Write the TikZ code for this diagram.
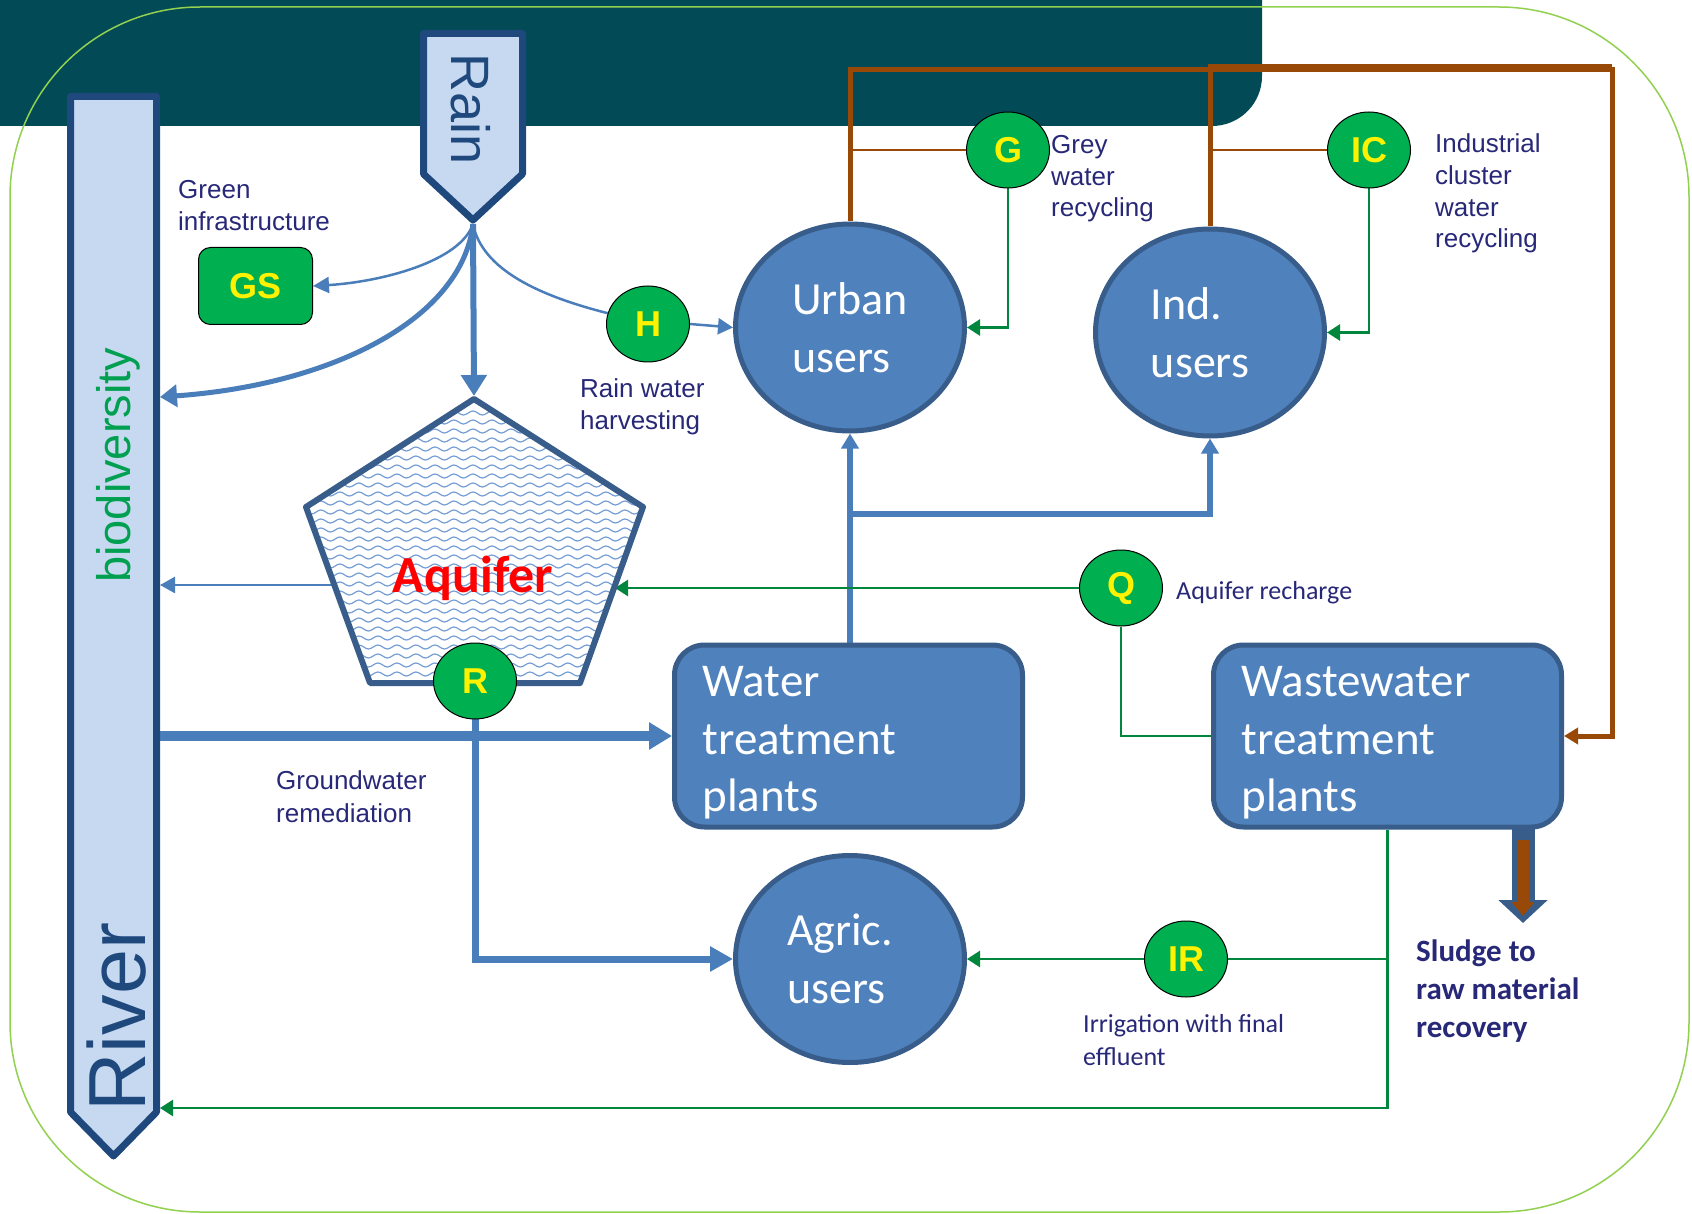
\documentclass[tikz,border=0pt]{standalone}
\usepackage{fontspec}
\setmainfont{Liberation Sans}
\newfontfamily\fArial{Liberation Sans}
\newfontfamily\fCal{Carlito}
\usetikzlibrary{arrows.meta,shapes.geometric,decorations.pathmorphing}
\definecolor{bandc}{RGB}{2,74,85}
\definecolor{bordc}{RGB}{146,208,80}
\definecolor{rvfill}{RGB}{198,217,241}
\definecolor{rvdraw}{RGB}{31,73,125}
\definecolor{ufill}{RGB}{79,129,189}
\definecolor{udraw}{RGB}{56,93,138}
\definecolor{lnblue}{RGB}{74,126,187}
\definecolor{gfill}{RGB}{0,176,80}
\definecolor{lngreen}{RGB}{0,134,61}
\definecolor{brn}{RGB}{152,72,7}
\definecolor{navy}{RGB}{40,40,120}
\definecolor{biog}{RGB}{0,160,80}
\definecolor{wave}{RGB}{118,158,214}
\pgfdeclarelayer{bg}
\pgfsetlayers{bg,main}
\begin{document}
\begin{tikzpicture}[x=1pt,y=-1pt,
  lbl/.style={font=\fArial\fontsize{26}{32}\selectfont, text=navy, align=left, inner sep=0pt, anchor=base west},
  lblc/.style={font=\fCal\fontsize{26}{33}\selectfont, text=navy, align=left, inner sep=0pt, anchor=base west},
  gc/.style={ellipse, draw=black, line width=1pt, fill=gfill, minimum width=83pt, minimum height=76pt, inner sep=0pt, font=\fArial\bfseries\fontsize{36}{36}\selectfont, text=yellow},
  user/.style={ellipse, draw=udraw, line width=5pt, fill=ufill, text=white, align=left, inner sep=0pt, minimum width=229pt, minimum height=207pt, font=\fCal\fontsize{46}{58}\selectfont},
  plant/.style={rectangle, rounded corners=30pt, draw=udraw, line width=5pt, fill=ufill, text=white, align=left, inner xsep=28pt, inner ysep=0pt, text width=292pt, minimum height=182pt, font=\fCal\fontsize{47}{57.5}\selectfont},
  bline/.style={draw=lnblue},
  gline/.style={draw=lngreen, line width=2.5pt},
  brline/.style={draw=brn, line width=5pt},
  tipS/.style={-{Triangle[length=15pt,width=16pt]}},
  tipG/.style={-{Triangle[length=13pt,width=16pt]}},
  shp/.style={draw=rvdraw, fill=rvfill, line width=7pt, line join=round}
]
\useasboundingbox (0,0) rectangle (1692,1214);

% ---- shapes: river, rain, aquifer
\draw[shp] (70.5,96.5) -- (156.5,96.5) -- (156.5,1112) -- (113.5,1156) -- (70.5,1112) -- cycle;
\draw[shp] (423.5,33.5) -- (522.5,33.5) -- (522.5,174) -- (473,220) -- (423.5,174) -- cycle;
\node[rotate=90, anchor=base west, inner sep=0pt, font=\fArial\fontsize{47}{47}\selectfont, text=biog] (bio) at (130,583) {biodiversity};
\node[rotate=90, anchor=base west, inner sep=0pt, font=\fArial\fontsize{81}{81}\selectfont, text=rvdraw] (river) at (145,1112) {River};
\node[rotate=-90, anchor=base west, inner sep=0pt, font=\fArial\fontsize{54}{54}\selectfont, text=rvdraw] (rain) at (451,53) {Rain};

\fill[white] (474,399) -- (643,507) -- (580,683) -- (370,683) -- (306,507) -- cycle;
\begin{scope}
  \clip (474,399) -- (643,507) -- (580,683) -- (370,683) -- (306,507) -- cycle;
  \foreach \yy in {404,413,...,690} {
    \draw[wave, line width=1.2pt, decorate, decoration={snake, segment length=19pt, amplitude=2pt}] (296,\yy) -- (652,\yy);
  }
\end{scope}
\draw[draw=udraw, line width=6pt, line join=round] (474,399) -- (643,507) -- (580,683) -- (370,683) -- (306,507) -- cycle;
\node[anchor=base, inner sep=0pt, font=\fCal\bfseries\fontsize{52}{52}\selectfont, text=red] (aqtxt) at (473,592) {Aquifer};

% ---- main nodes
\node[rectangle, rounded corners=12pt, draw=black, line width=1pt, fill=gfill, minimum width=114pt, minimum height=77pt, font=\fArial\bfseries\fontsize{36}{36}\selectfont, text=yellow] (GS) at (255.5,286) {GS};
\node[user] (urban) at (850,327.5) {Urban\\users};
\node[user] (ind) at (1210,332.5) {Ind.\\users\kern20pt};
\node[user] (agric) at (850,959) {Agric.\kern20pt\\users};
\node[plant] (WTP) at (848.5,736) {\rule{0pt}{44pt}Water\\treatment\\plants};
\node[plant] (WWTP) at (1387.5,736) {\rule{0pt}{44pt}Wastewater\\treatment\\plants};
\node[gc] (H) at (648,324) {H};
\node[gc] (G) at (1008,150) {G};
\node[gc] (IC) at (1369,150) {IC};
\node[gc] (Q) at (1121,588) {Q};
\node[gc] (R) at (475,681) {R};
\node[gc] (IR) at (1186,959) {IR};

% ---- labels (anchor = baseline of the last line)
\node[lbl] (lgi) at (178,231) {Green\\infrastructure};
\node[lbl] (lrw) at (580,429) {Rain water\\harvesting};
\node[lbl, font=\fArial\fontsize{26}{31.5}\selectfont] (lgw) at (1051,217) {Grey\\water\\recycling};
\node[lbl, font=\fArial\fontsize{26}{31.7}\selectfont] (lic) at (1435,248) {Industrial\\cluster\\water\\recycling};
\node[lbl, font=\fArial\fontsize{26}{33}\selectfont] (lgr) at (276,822) {Groundwater\\remediation};
\node[lblc] (laq) at (1176,599) {Aquifer recharge};
\node[lblc] (lir) at (1083,1065) {Irrigation with final\\effluent};
\node[lblc, font=\fCal\bfseries\fontsize{31}{38}\selectfont] (lsl) at (1416,1037) {Sludge to\\raw material\\recovery};

% ---- connector end points
\coordinate (raintip) at (473,224);
\coordinate (aqtop) at (474,396);
\coordinate (aqL) at (336,585);
\coordinate (aqR) at (615,588);
\coordinate (rv1) at (160,397);
\coordinate (rv2) at (160,585);
\coordinate (rv3) at (160,736);
\coordinate (rv4) at (160,1108);
\coordinate (br) at (850,514);
\coordinate (bTR) at (1612,70);
\coordinate (bTR2) at (1612,67);
\coordinate (irj) at (1387.5,959);
\coordinate (sl1) at (1523,829);
\coordinate (sl2) at (1523,923);
\coordinate (sl3) at (1523,840);
\coordinate (sl4) at (1523,916);

\begin{pgfonlayer}{bg}
  \fill[white] (0,0) rectangle (1692,1214);
  \fill[bandc] (0,0) -- (1262,0) [rounded corners=50pt] -- (1262,126) [rounded corners=0pt] -- (0,126) -- cycle;
  \draw[bordc, line width=1.5pt, rounded corners=190pt] (10,7) rectangle (1689,1212);

  % rain
  \draw[bline, line width=6pt, -{Triangle[length=21pt,width=25pt]}] (raintip) -- (aqtop);
  \draw[bline, line width=2.5pt, -{Triangle[length=16pt,width=16pt]}] (raintip) .. controls (460,262) and (380,282) .. (GS.east);
  \draw[bline, line width=5pt, -{Triangle[length=17pt,width=22pt]}] (raintip) .. controls (462,320) and (330,385) .. (rv1);
  \draw[bline, line width=2.5pt] (raintip) .. controls (482,270) and (540,296) .. (H.165);
  \draw[bline, line width=2.5pt, tipS] (H.east) -- (urban.west);
  % water supply
  \draw[bline, line width=6pt, -{Triangle[length=15pt,width=17pt]}] (urban.south |- WTP.north) -- (urban.south);
  \draw[bline, line width=6pt, -{Triangle[length=15pt,width=17pt]}] (br) -| (ind.south);
  \draw[bline, line width=2.5pt, tipS] (aqL) -- (rv2);
  \draw[bline, line width=10pt, -{Triangle[length=23pt,width=26pt]}] (rv3) -- (WTP.west);
  \draw[bline, line width=7pt, -{Triangle[length=23pt,width=24pt]}] (R.center) |- (agric.west);
  % green
  \draw[gline, tipG] (G.south) |- (urban.east);
  \draw[gline, tipG] (IC.south) |- (ind.east);
  \draw[gline, tipG] (Q.west) -- (aqR);
  \draw[gline] (WWTP.west) -| (Q.south);
  \draw[gline, tipG] (WWTP.south) |- (rv4);
  \draw[gline, tipG] (irj) -- (agric.east);
  % brown
  \draw[brline, -{Triangle[length=14pt,width=16pt]}] (urban.north) |- (bTR) |- (WWTP.east);
  \draw[brline] (ind.north) |- (bTR2);
  \draw[draw=brn, line width=2pt] (G.west) -- (G.west -| urban.north);
  \draw[draw=brn, line width=2pt] (IC.west) -- (IC.west -| ind.north);
  % sludge
  \draw[draw=udraw, line width=23pt, -{Triangle[length=23pt,width=48pt]}] (sl1) -- (sl2);
  \draw[draw=brn, line width=11pt, -{Triangle[length=14pt,width=22pt]}] (sl3) -- (sl4);
\end{pgfonlayer}
\end{tikzpicture}
\end{document}
